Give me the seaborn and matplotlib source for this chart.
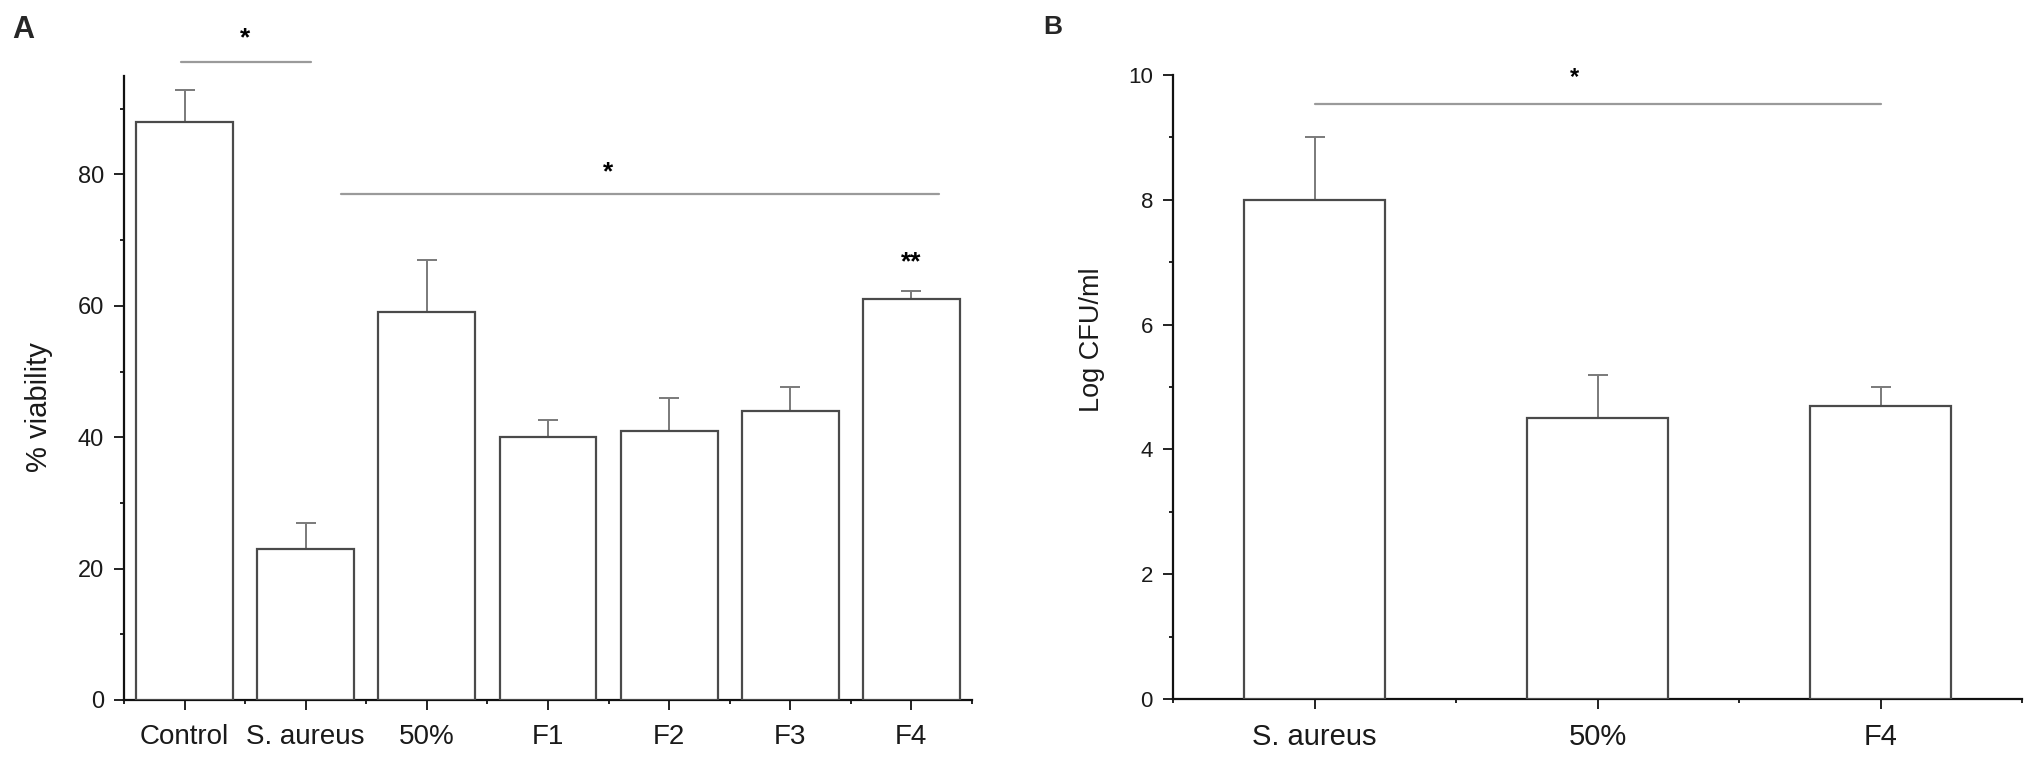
import numpy as np
import matplotlib
matplotlib.use("Agg")
import matplotlib.pyplot as plt
from matplotlib.ticker import FixedLocator
import seaborn as sns

# Panel A: cell viability
groups_a = ["Control", "S. aureus", "50%", "F1", "F2", "F3", "F4"]
viability = [88, 23, 59, 40, 41, 44, 61]
viability_err = [4.8, 4.0, 8.0, 2.7, 5.0, 3.6, 1.2]

# Panel B: bacterial counts
groups_b = ["S. aureus", "50%", "F4"]
log_cfu = [8.0, 4.5, 4.7]
log_cfu_err = [1.0, 0.7, 0.3]

sns.set_style("ticks")
plt.rcParams['font.family'] = ['Liberation Sans', 'DejaVu Sans']

EDGE = "#4a4a4a"
ERR = "#7a7a7a"
SIG = "#9a9a9a"

fig = plt.figure(figsize=(20.33, 7.62), dpi=100)
ax_a = fig.add_axes([0.0610, 0.0814, 0.4171, 0.8189])
ax_b = fig.add_axes([0.5770, 0.0827, 0.4176, 0.8189])


def draw_panel(ax, cats, vals, errs, width, ylim, major, minor, xfs, yfs):
    sns.barplot(x=cats, y=vals, color="white", saturation=1, edgecolor=EDGE,
                linewidth=1.6, width=width, ax=ax, zorder=3)
    xs = np.arange(len(cats))
    eb = ax.errorbar(xs, vals, yerr=[np.zeros(len(errs)), errs], fmt="none",
                     ecolor=ERR, elinewidth=1.4, capsize=7, capthick=1.4, zorder=2)
    # only the upper half of each error bar is shown
    eb[1][0].set_visible(False)
    ax.set_xlim(-0.5, len(cats) - 0.5)
    ax.set_ylim(*ylim)
    ax.set_yticks(major)
    ax.yaxis.set_minor_locator(FixedLocator(minor))
    ax.xaxis.set_minor_locator(FixedLocator(np.arange(-0.5, len(cats), 1.0)))
    for side in ["top", "right"]:
        ax.spines[side].set_visible(False)
    for side in ["left", "bottom"]:
        ax.spines[side].set_linewidth(1.6)
        ax.spines[side].set_color("#111111")
    ax.tick_params(axis="both", which="major", direction="out", length=7.5,
                   width=1.4, color="#222222", labelcolor="#1a1a1a")
    ax.tick_params(axis="both", which="minor", direction="out", length=3,
                   width=1.4, color="#222222")
    ax.tick_params(axis="x", which="major", labelsize=xfs, pad=10)
    ax.tick_params(axis="y", which="major", labelsize=yfs, pad=7)
    ax.set_xlabel("")


def star(ax, x, y_center, text, fs, px_per_unit):
    # place the glyph so that its visual centre sits at y_center
    off = 0.38 * fs * 100 / 72 / px_per_unit
    ax.text(x, y_center - off, text, ha="center", va="baseline",
            fontsize=fs, fontweight="bold", color="black", clip_on=False)


draw_panel(ax_a, groups_a, viability, viability_err, 0.8, (0, 95),
           [0, 20, 40, 60, 80], [10, 30, 50, 70, 90], 20, 17)
ax_a.set_ylabel("% viability", fontsize=21, color="#1a1a1a")
ax_a.yaxis.set_label_coords(-0.0837, 0.47)

ax_a.plot([-0.03, 1.04], [97.1, 97.1], color=SIG, lw=1.6, clip_on=False)
ax_a.plot([1.29, 6.23], [77.0, 77.0], color=SIG, lw=1.6, clip_on=False)
star(ax_a, 0.5, 101.2, "*", 19, 6.6)
star(ax_a, 3.5, 80.8, "*", 19, 6.6)
star(ax_a, 6.0, 67.1, "**", 19, 6.6)

draw_panel(ax_b, groups_b, log_cfu, log_cfu_err, 0.5, (0, 10),
           [0, 2, 4, 6, 8, 10], [1, 3, 5, 7, 9], 21, 16)
ax_b.set_ylabel("Log CFU/ml", fontsize=19.5, color="#1a1a1a")
ax_b.yaxis.set_label_coords(-0.080, 0.575)

ax_b.plot([0.0, 2.0], [9.53, 9.53], color=SIG, lw=1.6, clip_on=False)
star(ax_b, 0.92, 10.0, "*", 17, 62.4)

fig.text(12 / 2033, 1 - 15 / 762, "A", fontsize=22, fontweight="bold",
         ha="left", va="top")
fig.text(1043 / 2033, 1 - 15 / 762, "B", fontsize=19, fontweight="bold",
         ha="left", va="top")

fig.savefig("out.png", dpi=100)
